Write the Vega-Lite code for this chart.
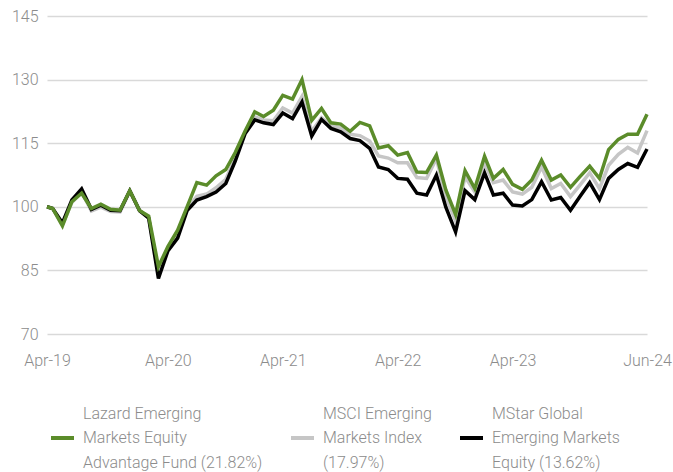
{
  "$schema": "https://vega.github.io/schema/vega-lite/v6.json",
  "width": 600,
  "height": 318,
  "autosize": {"type": "none"},
  "padding": {"left": 47, "top": 16, "right": 26, "bottom": 138},
  "background": "white",
  "config": {
    "view": {"stroke": null},
    "style": {"guide-label": {"lineHeight": 24.5}},
    "axis": {
      "labelFont": "Roboto",
      "labelFontWeight": 300,
      "labelFontSize": 16,
      "labelColor": "#8c8c8c",
      "gridColor": "#d9d9d9",
      "gridWidth": 1.5
    },
    "legend": {
      "labelFont": "Roboto",
      "labelFontWeight": 300,
      "labelFontSize": 16,
      "labelColor": "#8c8c8c"
    }
  },
  "data": {
    "values": [
      {"d": "2019-04-12", "s": "Lazard", "v": 100}, {"d": "2019-04-12", "s": "MSCI", "v": 100}, {"d": "2019-04-12", "s": "MStar", "v": 100},
      {"d": "2019-04-30", "s": "Lazard", "v": 99.6}, {"d": "2019-04-30", "s": "MSCI", "v": 99.6}, {"d": "2019-04-30", "s": "MStar", "v": 99.6},
      {"d": "2019-05-31", "s": "Lazard", "v": 95.5}, {"d": "2019-05-31", "s": "MSCI", "v": 95.8}, {"d": "2019-05-31", "s": "MStar", "v": 96.2},
      {"d": "2019-06-30", "s": "Lazard", "v": 101.2}, {"d": "2019-06-30", "s": "MSCI", "v": 101.0}, {"d": "2019-06-30", "s": "MStar", "v": 101.6},
      {"d": "2019-07-31", "s": "Lazard", "v": 103.2}, {"d": "2019-07-31", "s": "MSCI", "v": 103.5}, {"d": "2019-07-31", "s": "MStar", "v": 104.2},
      {"d": "2019-08-31", "s": "Lazard", "v": 99.6}, {"d": "2019-08-31", "s": "MSCI", "v": 99.0}, {"d": "2019-08-31", "s": "MStar", "v": 99.4},
      {"d": "2019-09-30", "s": "Lazard", "v": 100.6}, {"d": "2019-09-30", "s": "MSCI", "v": 99.9}, {"d": "2019-09-30", "s": "MStar", "v": 100.4},
      {"d": "2019-10-31", "s": "Lazard", "v": 99.4}, {"d": "2019-10-31", "s": "MSCI", "v": 98.9}, {"d": "2019-10-31", "s": "MStar", "v": 99.2},
      {"d": "2019-11-30", "s": "Lazard", "v": 99.2}, {"d": "2019-11-30", "s": "MSCI", "v": 98.8}, {"d": "2019-11-30", "s": "MStar", "v": 99.1},
      {"d": "2019-12-31", "s": "Lazard", "v": 103.8}, {"d": "2019-12-31", "s": "MSCI", "v": 103.6}, {"d": "2019-12-31", "s": "MStar", "v": 103.8},
      {"d": "2020-01-31", "s": "Lazard", "v": 99.1}, {"d": "2020-01-31", "s": "MSCI", "v": 99.0}, {"d": "2020-01-31", "s": "MStar", "v": 99.1},
      {"d": "2020-02-29", "s": "Lazard", "v": 97.8}, {"d": "2020-02-29", "s": "MSCI", "v": 97.5}, {"d": "2020-02-29", "s": "MStar", "v": 97.3},
      {"d": "2020-03-31", "s": "Lazard", "v": 85.9}, {"d": "2020-03-31", "s": "MSCI", "v": 84.5}, {"d": "2020-03-31", "s": "MStar", "v": 83.1},
      {"d": "2020-04-30", "s": "Lazard", "v": 90.6}, {"d": "2020-04-30", "s": "MSCI", "v": 90.0}, {"d": "2020-04-30", "s": "MStar", "v": 89.6},
      {"d": "2020-05-31", "s": "Lazard", "v": 94.5}, {"d": "2020-05-31", "s": "MSCI", "v": 93.5}, {"d": "2020-05-31", "s": "MStar", "v": 92.6},
      {"d": "2020-06-30", "s": "Lazard", "v": 100.0}, {"d": "2020-06-30", "s": "MSCI", "v": 99.5}, {"d": "2020-06-30", "s": "MStar", "v": 99.1},
      {"d": "2020-07-31", "s": "Lazard", "v": 105.7}, {"d": "2020-07-31", "s": "MSCI", "v": 102.5}, {"d": "2020-07-31", "s": "MStar", "v": 101.6},
      {"d": "2020-08-31", "s": "Lazard", "v": 105.1}, {"d": "2020-08-31", "s": "MSCI", "v": 103.0}, {"d": "2020-08-31", "s": "MStar", "v": 102.4},
      {"d": "2020-09-30", "s": "Lazard", "v": 107.3}, {"d": "2020-09-30", "s": "MSCI", "v": 104.5}, {"d": "2020-09-30", "s": "MStar", "v": 103.5},
      {"d": "2020-10-31", "s": "Lazard", "v": 108.8}, {"d": "2020-10-31", "s": "MSCI", "v": 106.5}, {"d": "2020-10-31", "s": "MStar", "v": 105.5},
      {"d": "2020-11-30", "s": "Lazard", "v": 112.8}, {"d": "2020-11-30", "s": "MSCI", "v": 111.5}, {"d": "2020-11-30", "s": "MStar", "v": 110.8},
      {"d": "2020-12-31", "s": "Lazard", "v": 117.8}, {"d": "2020-12-31", "s": "MSCI", "v": 117.5}, {"d": "2020-12-31", "s": "MStar", "v": 117.2},
      {"d": "2021-01-31", "s": "Lazard", "v": 122.4}, {"d": "2021-01-31", "s": "MSCI", "v": 121.2}, {"d": "2021-01-31", "s": "MStar", "v": 120.5},
      {"d": "2021-02-28", "s": "Lazard", "v": 121.3}, {"d": "2021-02-28", "s": "MSCI", "v": 120.5}, {"d": "2021-02-28", "s": "MStar", "v": 119.8},
      {"d": "2021-03-31", "s": "Lazard", "v": 122.8}, {"d": "2021-03-31", "s": "MSCI", "v": 120.3}, {"d": "2021-03-31", "s": "MStar", "v": 119.4},
      {"d": "2021-04-30", "s": "Lazard", "v": 126.3}, {"d": "2021-04-30", "s": "MSCI", "v": 123.3}, {"d": "2021-04-30", "s": "MStar", "v": 122.1},
      {"d": "2021-05-31", "s": "Lazard", "v": 125.4}, {"d": "2021-05-31", "s": "MSCI", "v": 122.1}, {"d": "2021-05-31", "s": "MStar", "v": 120.8},
      {"d": "2021-06-30", "s": "Lazard", "v": 130.0}, {"d": "2021-06-30", "s": "MSCI", "v": 126.0}, {"d": "2021-06-30", "s": "MStar", "v": 124.7},
      {"d": "2021-07-31", "s": "Lazard", "v": 120.4}, {"d": "2021-07-31", "s": "MSCI", "v": 117.8}, {"d": "2021-07-31", "s": "MStar", "v": 116.7},
      {"d": "2021-08-31", "s": "Lazard", "v": 123.2}, {"d": "2021-08-31", "s": "MSCI", "v": 121.0}, {"d": "2021-08-31", "s": "MStar", "v": 120.6},
      {"d": "2021-09-30", "s": "Lazard", "v": 119.8}, {"d": "2021-09-30", "s": "MSCI", "v": 119.2}, {"d": "2021-09-30", "s": "MStar", "v": 118.5},
      {"d": "2021-10-31", "s": "Lazard", "v": 119.5}, {"d": "2021-10-31", "s": "MSCI", "v": 118.6}, {"d": "2021-10-31", "s": "MStar", "v": 117.7},
      {"d": "2021-11-30", "s": "Lazard", "v": 117.8}, {"d": "2021-11-30", "s": "MSCI", "v": 117.1}, {"d": "2021-11-30", "s": "MStar", "v": 116.1},
      {"d": "2021-12-31", "s": "Lazard", "v": 119.9}, {"d": "2021-12-31", "s": "MSCI", "v": 116.8}, {"d": "2021-12-31", "s": "MStar", "v": 115.6},
      {"d": "2022-01-31", "s": "Lazard", "v": 119.1}, {"d": "2022-01-31", "s": "MSCI", "v": 115.5}, {"d": "2022-01-31", "s": "MStar", "v": 113.8},
      {"d": "2022-02-28", "s": "Lazard", "v": 113.9}, {"d": "2022-02-28", "s": "MSCI", "v": 112.0}, {"d": "2022-02-28", "s": "MStar", "v": 109.4},
      {"d": "2022-03-31", "s": "Lazard", "v": 114.4}, {"d": "2022-03-31", "s": "MSCI", "v": 111.5}, {"d": "2022-03-31", "s": "MStar", "v": 108.8},
      {"d": "2022-04-30", "s": "Lazard", "v": 112.2}, {"d": "2022-04-30", "s": "MSCI", "v": 110.4}, {"d": "2022-04-30", "s": "MStar", "v": 106.7},
      {"d": "2022-05-31", "s": "Lazard", "v": 112.8}, {"d": "2022-05-31", "s": "MSCI", "v": 110.4}, {"d": "2022-05-31", "s": "MStar", "v": 106.5},
      {"d": "2022-06-30", "s": "Lazard", "v": 108.2}, {"d": "2022-06-30", "s": "MSCI", "v": 106.9}, {"d": "2022-06-30", "s": "MStar", "v": 103.2},
      {"d": "2022-07-31", "s": "Lazard", "v": 108.1}, {"d": "2022-07-31", "s": "MSCI", "v": 106.7}, {"d": "2022-07-31", "s": "MStar", "v": 102.8},
      {"d": "2022-08-31", "s": "Lazard", "v": 112.2}, {"d": "2022-08-31", "s": "MSCI", "v": 111.4}, {"d": "2022-08-31", "s": "MStar", "v": 107.5},
      {"d": "2022-09-30", "s": "Lazard", "v": 104.0}, {"d": "2022-09-30", "s": "MSCI", "v": 102.4}, {"d": "2022-09-30", "s": "MStar", "v": 99.9},
      {"d": "2022-10-31", "s": "Lazard", "v": 98.2}, {"d": "2022-10-31", "s": "MSCI", "v": 96.7}, {"d": "2022-10-31", "s": "MStar", "v": 94.1},
      {"d": "2022-11-30", "s": "Lazard", "v": 108.5}, {"d": "2022-11-30", "s": "MSCI", "v": 107.1}, {"d": "2022-11-30", "s": "MStar", "v": 103.8},
      {"d": "2022-12-31", "s": "Lazard", "v": 104.3}, {"d": "2022-12-31", "s": "MSCI", "v": 103.5}, {"d": "2022-12-31", "s": "MStar", "v": 101.7},
      {"d": "2023-01-31", "s": "Lazard", "v": 111.9}, {"d": "2023-01-31", "s": "MSCI", "v": 110.2}, {"d": "2023-01-31", "s": "MStar", "v": 108.0},
      {"d": "2023-02-28", "s": "Lazard", "v": 106.7}, {"d": "2023-02-28", "s": "MSCI", "v": 105.7}, {"d": "2023-02-28", "s": "MStar", "v": 102.8},
      {"d": "2023-03-31", "s": "Lazard", "v": 108.8}, {"d": "2023-03-31", "s": "MSCI", "v": 106.3}, {"d": "2023-03-31", "s": "MStar", "v": 103.2},
      {"d": "2023-04-30", "s": "Lazard", "v": 105.3}, {"d": "2023-04-30", "s": "MSCI", "v": 103.5}, {"d": "2023-04-30", "s": "MStar", "v": 100.4},
      {"d": "2023-05-31", "s": "Lazard", "v": 104.1}, {"d": "2023-05-31", "s": "MSCI", "v": 103.0}, {"d": "2023-05-31", "s": "MStar", "v": 100.2},
      {"d": "2023-06-30", "s": "Lazard", "v": 106.3}, {"d": "2023-06-30", "s": "MSCI", "v": 104.6}, {"d": "2023-06-30", "s": "MStar", "v": 101.7},
      {"d": "2023-07-31", "s": "Lazard", "v": 111.0}, {"d": "2023-07-31", "s": "MSCI", "v": 109.4}, {"d": "2023-07-31", "s": "MStar", "v": 105.9},
      {"d": "2023-08-31", "s": "Lazard", "v": 106.3}, {"d": "2023-08-31", "s": "MSCI", "v": 104.3}, {"d": "2023-08-31", "s": "MStar", "v": 101.6},
      {"d": "2023-09-30", "s": "Lazard", "v": 107.5}, {"d": "2023-09-30", "s": "MSCI", "v": 105.5}, {"d": "2023-09-30", "s": "MStar", "v": 102.2},
      {"d": "2023-10-31", "s": "Lazard", "v": 104.6}, {"d": "2023-10-31", "s": "MSCI", "v": 102.4}, {"d": "2023-10-31", "s": "MStar", "v": 99.2},
      {"d": "2023-11-30", "s": "Lazard", "v": 107.1}, {"d": "2023-11-30", "s": "MSCI", "v": 105.1}, {"d": "2023-11-30", "s": "MStar", "v": 102.4},
      {"d": "2023-12-31", "s": "Lazard", "v": 109.6}, {"d": "2023-12-31", "s": "MSCI", "v": 108.0}, {"d": "2023-12-31", "s": "MStar", "v": 105.7},
      {"d": "2024-01-31", "s": "Lazard", "v": 106.7}, {"d": "2024-01-31", "s": "MSCI", "v": 104.3}, {"d": "2024-01-31", "s": "MStar", "v": 101.7},
      {"d": "2024-02-29", "s": "Lazard", "v": 113.5}, {"d": "2024-02-29", "s": "MSCI", "v": 109.8}, {"d": "2024-02-29", "s": "MStar", "v": 106.7},
      {"d": "2024-03-31", "s": "Lazard", "v": 115.9}, {"d": "2024-03-31", "s": "MSCI", "v": 112.4}, {"d": "2024-03-31", "s": "MStar", "v": 108.8},
      {"d": "2024-04-30", "s": "Lazard", "v": 117.1}, {"d": "2024-04-30", "s": "MSCI", "v": 114.0}, {"d": "2024-04-30", "s": "MStar", "v": 110.2},
      {"d": "2024-05-31", "s": "Lazard", "v": 117.1}, {"d": "2024-05-31", "s": "MSCI", "v": 112.7}, {"d": "2024-05-31", "s": "MStar", "v": 109.3},
      {"d": "2024-06-30", "s": "Lazard", "v": 121.82}, {"d": "2024-06-30", "s": "MSCI", "v": 117.97}, {"d": "2024-06-30", "s": "MStar", "v": 113.62}
    ]
  },
  "encoding": {
    "x": {
      "field": "d",
      "type": "temporal",
      "scale": {
        "type": "utc",
        "nice": false,
        "domain": [
          {"year": 2019, "month": 4, "date": 12, "utc": true},
          {"year": 2024, "month": 6, "date": 30, "utc": true}
        ]
      },
      "axis": {
        "title": null,
        "grid": false,
        "domain": false,
        "ticks": false,
        "labelPadding": 18,
        "labelFlush": false,
        "labelOverlap": false,
        "labelBound": false,
        "format": "%b-%y",
        "values": [
          {"year": 2019, "month": 4, "date": 12, "utc": true},
          {"year": 2020, "month": 4, "date": 30, "utc": true},
          {"year": 2021, "month": 4, "date": 30, "utc": true},
          {"year": 2022, "month": 4, "date": 30, "utc": true},
          {"year": 2023, "month": 4, "date": 30, "utc": true},
          {"year": 2024, "month": 6, "date": 30, "utc": true}
        ]
      }
    },
    "y": {
      "field": "v",
      "type": "quantitative",
      "scale": {"domain": [70, 145], "nice": false, "zero": false},
      "axis": {
        "title": null,
        "values": [70, 85, 100, 115, 130, 145],
        "domain": false,
        "ticks": false,
        "labelPadding": 9
      }
    },
    "color": {
      "field": "s",
      "type": "nominal",
      "scale": {"domain": ["Lazard", "MSCI", "MStar"], "range": ["#5b8c2a", "#c6c6c6", "#000000"]},
      "legend": {
        "title": null,
        "orient": "none",
        "direction": "horizontal",
        "legendX": 2,
        "legendY": 408.5,
        "padding": 0,
        "symbolType": "stroke",
        "symbolStrokeWidth": 4,
        "symbolSize": 529,
        "labelOffset": 7,
        "columnPadding": 20,
        "labelLimit": 300,
        "encoding": {"labels": {"dy": {"value": -24.5}}},
        "labelExpr": "datum.label == 'Lazard' ? ['Lazard Emerging', 'Markets Equity', 'Advantage Fund (21.82%)'] : datum.label == 'MSCI' ? ['MSCI Emerging', 'Markets Index', '(17.97%)'] : ['MStar Global', 'Emerging Markets', 'Equity (13.62%)']"
      }
    }
  },
  "layer": [
    {"transform": [{"filter": "datum.s == 'MSCI'"}], "mark": {"type": "line", "strokeWidth": 3.5}},
    {"transform": [{"filter": "datum.s == 'MStar'"}], "mark": {"type": "line", "strokeWidth": 3.5}},
    {"transform": [{"filter": "datum.s == 'Lazard'"}], "mark": {"type": "line", "strokeWidth": 3.5}}
  ]
}
